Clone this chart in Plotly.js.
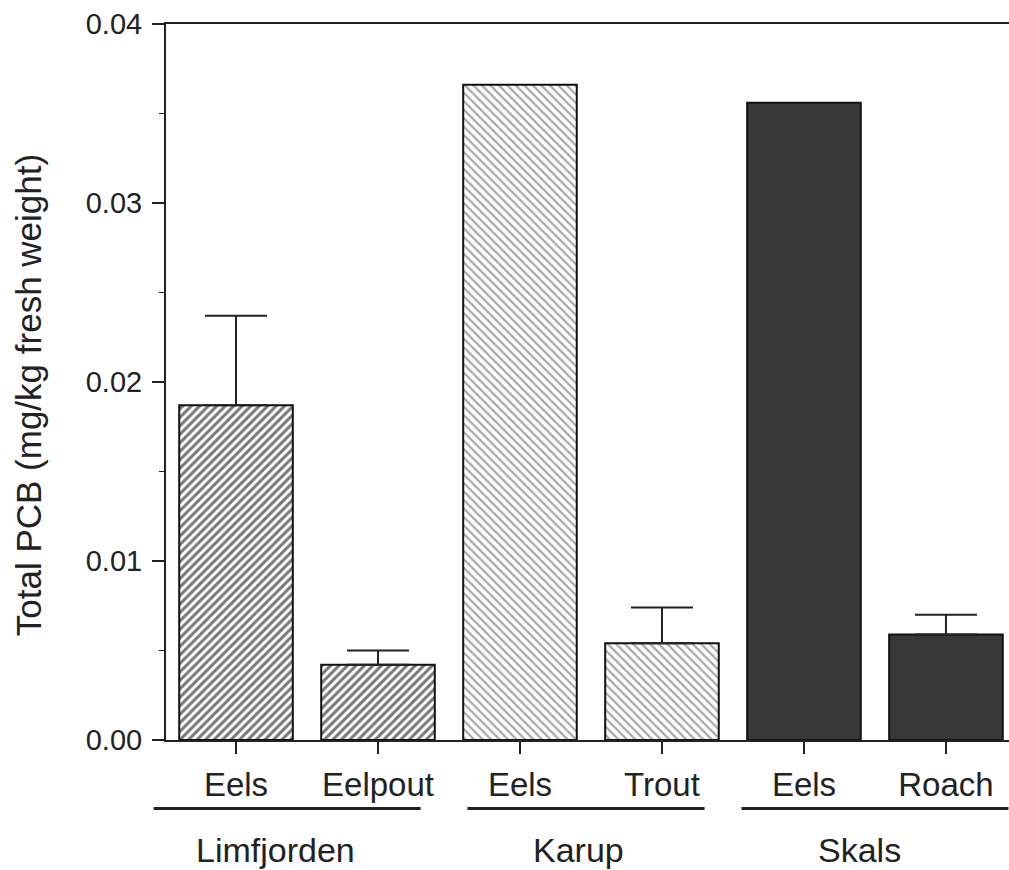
<!DOCTYPE html>
<html><head><meta charset="utf-8">
<script src="https://cdn.plot.ly/plotly-3.0.1.min.js"></script>
<style>html,body{margin:0;padding:0;background:#fff}</style>
</head><body><div id="chart" style="width:1009px;height:870px"></div>
<script>
// ---- data ----
const species   = ['Eels', 'Eelpout', 'Eels', 'Trout', 'Eels', 'Roach'];
const sites     = ['Limfjorden', 'Limfjorden', 'Karup', 'Karup', 'Skals', 'Skals'];
const siteNames = ['Limfjorden', 'Karup', 'Skals'];
const pcb       = [0.0187, 0.0042, 0.0366, 0.0054, 0.0356, 0.0059];
const pcbErrUp  = [0.0050, 0.0008, null, 0.0020, null, 0.0011];
const yTickVals = [0, 0.01, 0.02, 0.03, 0.04];

// ---- styles ----
const siteStyle = {
  Limfjorden: {shape: '/',  fg: '#141414', bg: '#bcbcbc', solidity: 0.5,  color: '#777'},
  Karup:      {shape: '\\', fg: '#2a2a2a', bg: '#dedede', solidity: 0.38, color: '#aaa'},
  Skals:      {shape: '',   fg: '#383838', bg: '#383838', solidity: 0.3,  color: '#383838'}
};
const labelShift    = [-0.22, -0.09, -0.11];
const underlineSpan = [[-0.58, 1.30], [-0.37, 1.30], [-0.44, 1.44]];
const xRange = [-0.493, 5.444];
const FONT = '"Liberation Sans", Arial, Helvetica, sans-serif';
const INK = '#222';

const idx = species.map((_, i) => i);
const st = sites.map(s => siteStyle[s]);

const trace = {
  type: 'bar',
  x: idx,
  y: pcb,
  width: 0.8,
  marker: {
    color: st.map(s => s.color),
    line: {color: '#111', width: 2},
    pattern: {
      shape: st.map(s => s.shape),
      fgcolor: st.map(s => s.fg),
      bgcolor: st.map(s => s.bg),
      solidity: st.map(s => s.solidity),
      size: 6,
      fillmode: 'replace'
    }
  },
  error_y: {
    type: 'data',
    symmetric: false,
    array: pcbErrUp.map(v => v === null ? NaN : v),
    arrayminus: pcbErrUp.map(v => v === null ? NaN : 0),
    color: INK,
    thickness: 2,
    width: 31
  },
  hoverinfo: 'skip'
};

const toPaper = v => (v - xRange[0]) / (xRange[1] - xRange[0]);

const shapes = [];
const annotations = [];
siteNames.forEach((name, g) => {
  const members = idx.filter(i => sites[i] === name);
  const first = Math.min(...members);
  const mid = members.reduce((a, b) => a + b, 0) / members.length;
  shapes.push({
    type: 'line', xref: 'paper', yref: 'paper',
    x0: toPaper(first + underlineSpan[g][0]), x1: toPaper(first + underlineSpan[g][1]),
    y0: -0.0956, y1: -0.0956,
    line: {color: INK, width: 3}
  });
  annotations.push({
    text: name, xref: 'x', yref: 'paper',
    x: mid + labelShift[g], y: -0.1542,
    xanchor: 'center', yanchor: 'middle', showarrow: false,
    font: {family: FONT, size: 34, color: INK}
  });
});

annotations.push({
  text: 'Total PCB (mg/kg fresh weight)',
  xref: 'paper', yref: 'paper', x: 0, y: 0.4815,
  xshift: -138, xanchor: 'center', yanchor: 'middle',
  textangle: -90, showarrow: false,
  font: {family: FONT, size: 35, color: INK}
});

const layout = {
  width: 1009, height: 870,
  margin: {l: 166, r: 0, t: 24, b: 130, pad: 0},
  paper_bgcolor: '#fff', plot_bgcolor: '#fff',
  showlegend: false,
  font: {family: FONT, color: INK},
  bargap: 0.2,
  xaxis: {
    range: xRange, tickmode: 'array', tickvals: idx, ticktext: species,
    showline: true, linecolor: INK, linewidth: 2, mirror: true,
    ticks: 'outside', ticklen: 12, tickwidth: 1.5, tickcolor: INK,
    ticklabelstandoff: 2,
    tickfont: {family: FONT, size: 33, color: INK},
    showgrid: false, zeroline: false
  },
  yaxis: {
    range: [0, 0.04], tickmode: 'array', tickvals: yTickVals, tickformat: '.2f',
    showline: true, linecolor: INK, linewidth: 2,
    ticks: 'outside', ticklen: 12, tickwidth: 2, tickcolor: INK,
    minor: {dtick: 0.005, tick0: 0, ticks: 'outside', ticklen: 5, tickwidth: 1.5, tickcolor: INK, showgrid: false},
    ticklabelstandoff: 4,
    tickfont: {family: FONT, size: 29, color: INK},
    showgrid: false, zeroline: false
  },
  shapes: shapes,
  annotations: annotations
};

Plotly.newPlot('chart', [trace], layout, {staticPlot: true, displayModeBar: false});
</script>
</body></html>
